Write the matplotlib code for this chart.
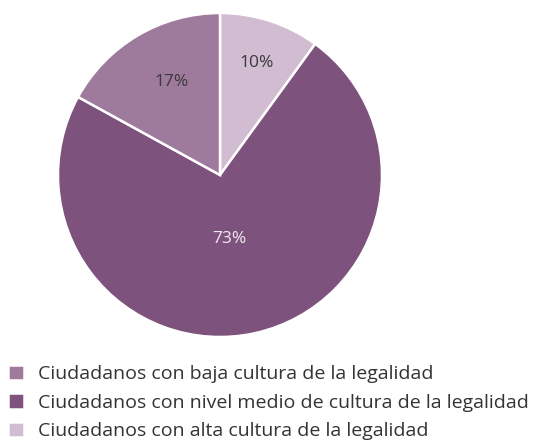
import matplotlib.pyplot as plt
import numpy as np

plt.rcParams['font.family'] = ['Open Sans', 'DejaVu Sans']

# slices clockwise from top
labels = ['Ciudadanos con alta cultura de la legalidad',
          'Ciudadanos con nivel medio de cultura de la legalidad',
          'Ciudadanos con baja cultura de la legalidad']
values = [10, 73, 17]
colors = ['#d1bcd1', '#7d527c', '#9e7a9c']
text_colors = ['#3a3a3a', '#f2eaf2', '#3a3a3a']
label_r = [0.73, 0.40, 0.65]
label_shift = [0, 4, 3]  # degrees, nudges label toward the slice start
legend_order = [2, 1, 0]

fig = plt.figure(figsize=(5.33, 4.43), dpi=100)
cx, cy, r = 220 / 533, 1 - 175 / 443, 162
ax = fig.add_axes([cx - r / 533, cy - r / 443, 2 * r / 533, 2 * r / 443])
wedges, _ = ax.pie(values, colors=colors, startangle=90, counterclock=False,
                   wedgeprops=dict(edgecolor='white', linewidth=1.8))
ax.set_xlim(-1, 1)
ax.set_ylim(-1, 1)
ax.set_aspect('auto')

for w, v, tc, lr, sh in zip(wedges, values, text_colors, label_r, label_shift):
    mid = np.deg2rad((w.theta1 + w.theta2) / 2 - sh)
    ax.text(lr * np.cos(mid), lr * np.sin(mid), f'{v}%', ha='center', va='center',
            fontsize=12.5, color=tc)

fig.legend([wedges[i] for i in legend_order], [labels[i] for i in legend_order],
           loc='upper left', bbox_to_anchor=(0.0, 1 - 357 / 443), frameon=False,
           fontsize=14, handlelength=0.85, handleheight=0.85, handletextpad=0.68,
           labelspacing=0.52, labelcolor='#333333', borderaxespad=0)

fig.savefig('out.png', dpi=100)
